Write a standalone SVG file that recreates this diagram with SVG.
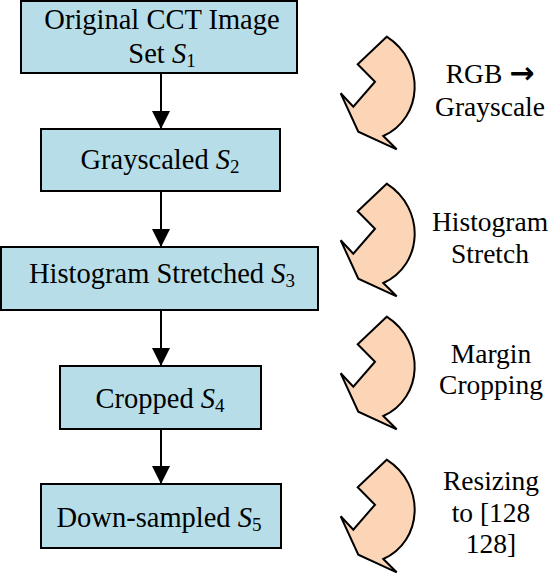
<svg xmlns="http://www.w3.org/2000/svg" width="551" height="574" viewBox="0 0 551 574">
<defs>
<style>
.box{fill:#B7DEE8;stroke:#000;stroke-width:2}
.conn{stroke:#000;stroke-width:2;fill:none}
.t{font-family:"Liberation Serif","Times New Roman",serif;font-size:28.5px;fill:#000;text-anchor:middle}
.r{font-size:27.5px}
.i{font-style:italic}
.sub{font-size:19px}
.arr{font-family:"DejaVu Sans",sans-serif;font-size:30px;font-weight:bold}
.curl{fill:#FBD5B5;stroke:#000;stroke-width:2;stroke-linejoin:miter}
</style>
<marker id="ah" markerUnits="userSpaceOnUse" markerWidth="18" markerHeight="18" viewBox="0 0 18 18" refX="18" refY="9" orient="auto">
<path d="M0,0 L18,9 L0,18 Z" fill="#000"/>
</marker>
<path id="curl" class="curl" d="M66.7,6.7 L37.7,34.3 L55,51.7 L33.3,76.7 L20.7,63.3 L38.3,101.7 L76.7,119.3 L63.3,106 C103,88 106,32 66.7,6.7 Z"/>
</defs>
<rect width="551" height="574" fill="#fff"/>
<g id="connectors">
<line class="conn" x1="161" y1="73" x2="161" y2="129" marker-end="url(#ah)"/>
<line class="conn" x1="161" y1="192" x2="161" y2="247" marker-end="url(#ah)"/>
<line class="conn" x1="161" y1="311" x2="161" y2="366" marker-end="url(#ah)"/>
<line class="conn" x1="161" y1="430" x2="161" y2="484" marker-end="url(#ah)"/>
</g>
<g id="n1">
<rect class="box" x="21" y="1" width="276" height="72"/>
<text class="t" x="162" y="29">Original CCT Image</text>
<text class="t" x="162" y="63">Set <tspan class="i">S</tspan><tspan class="sub" dy="4">1</tspan></text>
</g>
<g id="n2">
<rect class="box" x="41" y="129" width="239" height="62"/>
<text class="t" x="160" y="169">Grayscaled <tspan class="i">S</tspan><tspan class="sub" dy="4">2</tspan></text>
</g>
<g id="n3">
<rect class="box" x="1" y="247" width="317" height="63"/>
<text class="t" x="162" y="283">Histogram Stretched <tspan class="i">S</tspan><tspan class="sub" dy="4">3</tspan></text>
</g>
<g id="n4">
<rect class="box" x="60" y="366" width="201" height="63"/>
<text class="t" x="160" y="408">Cropped <tspan class="i">S</tspan><tspan class="sub" dy="4">4</tspan></text>
</g>
<g id="n5">
<rect class="box" x="41" y="484" width="240" height="64"/>
<text class="t" x="159" y="527">Down-sampled <tspan class="i">S</tspan><tspan class="sub" dy="4">5</tspan></text>
</g>
<g id="step1">
<use href="#curl" x="320" y="30"/>
<text class="t r" x="490" y="83">RGB <tspan class="arr">→</tspan></text>
<text class="t r" x="490" y="116">Grayscale</text>
</g>
<g id="step2">
<use href="#curl" x="320" y="177"/>
<text class="t r" x="490" y="231">Histogram</text>
<text class="t r" x="490" y="263">Stretch</text>
</g>
<g id="step3">
<use href="#curl" x="320" y="310"/>
<text class="t r" x="491" y="363">Margin</text>
<text class="t r" x="491" y="394">Cropping</text>
</g>
<g id="step4">
<use href="#curl" x="320" y="453"/>
<text class="t r" x="491" y="490">Resizing</text>
<text class="t r" x="491" y="522">to [128</text>
<text class="t r" x="491" y="553">128]</text>
</g>
</svg>
